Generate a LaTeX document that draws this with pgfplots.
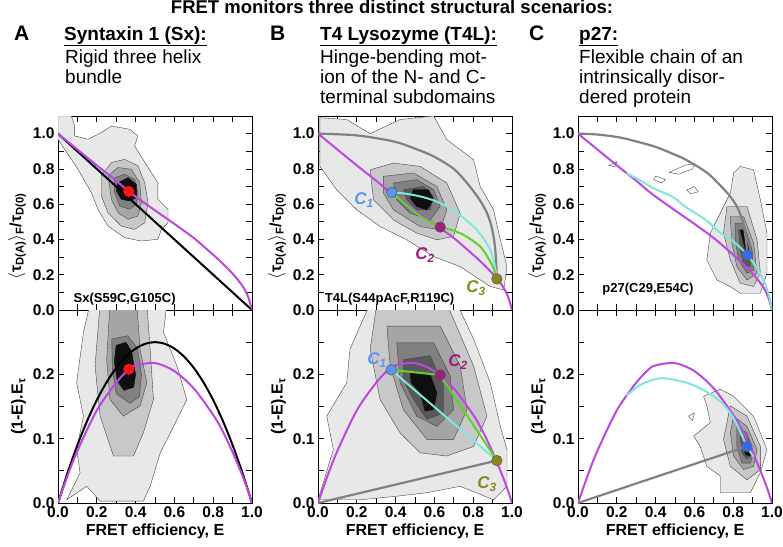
\documentclass[border=0pt]{standalone}
\usepackage{pgfplots}
\pgfplotsset{compat=1.18}
\usepackage{fontspec}
\setmainfont{Liberation Sans}
\definecolor{mag}{RGB}{190,70,225}
\definecolor{cyanc}{RGB}{125,232,218}
\definecolor{grn}{RGB}{95,212,40}
\definecolor{greyc}{RGB}{125,130,130}
\definecolor{cA}{RGB}{90,150,240}
\definecolor{cB}{RGB}{160,30,125}
\definecolor{cC}{RGB}{135,135,30}
\definecolor{redp}{RGB}{255,20,20}
\definecolor{blueC}{RGB}{55,105,235}
\definecolor{lv1}{RGB}{232,232,232}
\definecolor{lv2}{RGB}{200,200,200}
\definecolor{lv3}{RGB}{165,165,165}
\definecolor{lv4}{RGB}{128,128,128}
\definecolor{lv5}{RGB}{88,88,88}
\definecolor{lv6}{RGB}{15,15,15}
\definecolor{edge}{RGB}{70,70,70}
\pgfplotsset{
 l1/.style={fill=lv1,draw=edge,line width=0.4pt},
 l2/.style={fill=lv2,draw=edge,line width=0.4pt},
 l3/.style={fill=lv3,draw=edge,line width=0.4pt},
 l4/.style={fill=lv4,draw=edge,line width=0.4pt},
 l5/.style={fill=lv5,draw=edge,line width=0.4pt},
 l6/.style={fill=lv6,draw=lv6,line width=0.4pt},
 crv/.style={smooth,no marks,line width=2pt},
 dot/.style={only marks,mark=*,mark size=5.3pt,mark options={line width=0.5pt}},
 panel/.style={scale only axis,width=194pt,xmin=0,xmax=1,
  axis line style={line width=1pt},tick align=inside,tick pos=both,
  major tick length=6pt,minor tick length=6pt,
  every tick/.style={line width=0.8pt,black},
  xtick={0,0.2,0.4,0.6,0.8,1},minor xtick={0.1,0.3,0.5,0.7,0.9},
  ticklabel style={font=\bfseries\fontsize{15.5}{17}\selectfont},
  label style={font=\bfseries\fontsize{16}{18}\selectfont},
  clip=true},
 toppanel/.style={panel,height=194pt,ymin=0,ymax=1.1,
  ytick={0,0.2,0.4,0.6,0.8,1},yticklabels={0.0,0.2,0.4,0.6,0.8,1.0},
  minor ytick={0.1,0.3,0.5,0.7,0.9},xticklabels={},
  ylabel style={at={(ticklabel cs:0.38)}},
  ylabel={$\big\langle$τ\textsubscript{D(A)}$\big\rangle$\textsubscript{F}/τ\textsubscript{D(0)}}},
 botpanel/.style={panel,height=193pt,ymin=0,ymax=0.3,
  ytick={0,0.1,0.2},yticklabels={0.0,0.1,0.2},minor ytick={0.05,0.15,0.25},
  xticklabels={0.0,0.2,0.4,0.6,0.8,1.0},
  xlabel={FRET efficiency, E},ylabel={(1-E).E\textsubscript{τ}}},
}
\begin{document}
\begin{tikzpicture}
\useasboundingbox (0,0) rectangle (783pt,-546pt);
% ---------------- A top
\begin{axis}[toppanel,at={(58pt,-116pt)},anchor=north west]
\addplot[l1] coordinates {(0,1.1)(0.069,1.1)(0.086,1.043)(0.086,0.987)(0.155,0.968)(0.223,1.006)(0.275,1.043)(0.369,1.025)(0.412,0.987)(0.395,0.93)(0.438,0.854)(0.481,0.779)(0.515,0.722)(0.515,0.628)(0.567,0.571)(0.567,0.495)(0.533,0.457)(0.515,0.401)(0.43,0.391)(0.344,0.41)(0.258,0.476)(0.206,0.571)(0.172,0.665)(0.103,0.798)(0.034,0.911)(0,0.968)} --cycle;
\addplot[l2] coordinates {(0.223,0.76)(0.275,0.836)(0.344,0.854)(0.412,0.817)(0.447,0.722)(0.464,0.609)(0.447,0.495)(0.395,0.457)(0.326,0.476)(0.258,0.552)(0.223,0.647)} --cycle;
\addplot[l3] coordinates {(0.258,0.76)(0.309,0.808)(0.378,0.798)(0.421,0.722)(0.43,0.609)(0.412,0.533)(0.361,0.514)(0.309,0.552)(0.275,0.628)} --cycle;
\addplot[l4] coordinates {(0.292,0.75)(0.344,0.769)(0.395,0.741)(0.412,0.665)(0.404,0.599)(0.369,0.571)(0.318,0.59)(0.292,0.665)} --cycle;
\addplot[l6] coordinates {(0.309,0.722)(0.361,0.75)(0.404,0.713)(0.404,0.637)(0.369,0.618)(0.326,0.628)(0.301,0.675)} --cycle;
\addplot[no marks,line width=2pt,black] coordinates {(0,1)(1,0)};
\addplot[crv,mag] coordinates {(0,1)(0.1,0.91)(0.2,0.82)(0.3,0.733)(0.365,0.672)(0.4,0.643)(0.5,0.565)(0.6,0.488)(0.7,0.408)(0.8,0.313)(0.85,0.262)(0.9,0.206)(0.95,0.138)(0.98,0.075)(1,0)};
\addplot[dot,mark options={fill=redp,draw=redp}] coordinates {(0.365,0.672)};
\node[anchor=base west,inner sep=0,font=\bfseries\fontsize{13}{14}\selectfont] at (axis cs:0.08,0.04) {Sx(S59C,G105C)};
\end{axis}
% ---------------- A bottom
\begin{axis}[botpanel,at={(58pt,-310pt)},anchor=north west]
\addplot[l1] coordinates {(0.045,0.005)(0.114,0.047)(0.096,0.083)(0.131,0.135)(0.096,0.187)(0.131,0.265)(0.165,0.31)(0.561,0.31)(0.544,0.265)(0.613,0.213)(0.664,0.161)(0.596,0.119)(0.527,0.078)(0.475,0.026)(0.44,0.003)(0.217,0.003)(0.148,0.026)} --cycle;
\addplot[l2] coordinates {(0.217,0.31)(0.458,0.31)(0.475,0.239)(0.492,0.161)(0.44,0.109)(0.389,0.073)(0.286,0.073)(0.217,0.135)(0.191,0.213)} --cycle;
\addplot[l3] coordinates {(0.268,0.31)(0.406,0.31)(0.423,0.239)(0.458,0.187)(0.423,0.151)(0.337,0.135)(0.268,0.161)(0.251,0.223)} --cycle;
\addplot[l4] coordinates {(0.277,0.255)(0.36,0.26)(0.41,0.24)(0.43,0.2)(0.42,0.165)(0.37,0.155)(0.3,0.17)(0.28,0.21)} --cycle;
\addplot[l6] coordinates {(0.30,0.245)(0.35,0.25)(0.38,0.235)(0.40,0.2)(0.39,0.18)(0.34,0.175)(0.305,0.19)(0.29,0.22)} --cycle;
\addplot[crv,black] coordinates {(0,0)(0.05,0.0475)(0.1,0.09)(0.15,0.1275)(0.2,0.16)(0.25,0.1875)(0.3,0.21)(0.35,0.2275)(0.4,0.24)(0.45,0.2475)(0.5,0.25)(0.55,0.2475)(0.6,0.24)(0.65,0.2275)(0.7,0.21)(0.75,0.1875)(0.8,0.16)(0.85,0.1275)(0.9,0.09)(0.95,0.0475)(1,0)};
\addplot[crv,mag] coordinates {(0,0)(0.05,0.043)(0.1,0.081)(0.2,0.144)(0.3,0.187)(0.365,0.208)(0.4,0.214)(0.5,0.2175)(0.6,0.205)(0.7,0.178)(0.8,0.137)(0.85,0.111)(0.9,0.079)(0.95,0.043)(0.98,0.0185)(1,0)};
\addplot[dot,mark options={fill=redp,draw=redp}] coordinates {(0.365,0.208)};
\end{axis}
% ---------------- B top
\begin{axis}[toppanel,at={(318pt,-116pt)},anchor=north west]
\addplot[l1] coordinates {(0.01,1.09)(0.148,1.08)(0.269,1.0)(0.423,1.08)(0.596,1.1)(0.664,0.966)(0.802,0.852)(0.836,0.7)(0.905,0.568)(0.94,0.398)(0.974,0.246)(0.957,0.114)(0.888,0.133)(0.733,0.246)(0.596,0.303)(0.458,0.398)(0.32,0.473)(0.2,0.568)(0.096,0.682)(0.01,0.814)} --cycle;
\addplot[l2] coordinates {(0.269,0.795)(0.389,0.833)(0.527,0.814)(0.664,0.72)(0.733,0.549)(0.699,0.417)(0.613,0.398)(0.509,0.436)(0.389,0.511)(0.286,0.625)} --cycle;
\addplot[l3] coordinates {(0.337,0.758)(0.492,0.777)(0.613,0.70)(0.664,0.568)(0.63,0.455)(0.527,0.473)(0.389,0.568)(0.337,0.663)} --cycle;
\addplot[l4] coordinates {(0.389,0.72)(0.509,0.739)(0.596,0.682)(0.63,0.587)(0.578,0.511)(0.475,0.549)(0.406,0.625)} --cycle;
\addplot[l5] coordinates {(0.44,0.682)(0.544,0.70)(0.596,0.644)(0.578,0.568)(0.509,0.568)(0.458,0.625)} --cycle;
\addplot[l6] coordinates {(0.492,0.682)(0.57,0.682)(0.596,0.625)(0.561,0.568)(0.509,0.587)(0.475,0.634)} --cycle;
\addplot[crv,greyc,line width=2.2pt] coordinates {(0,1)(0.2,0.99)(0.389,0.956)(0.5,0.915)(0.596,0.871)(0.7,0.8)(0.768,0.72)(0.83,0.63)(0.871,0.55)(0.895,0.47)(0.91,0.38)(0.918,0.28)(0.922,0.176)};
\addplot[crv,mag] coordinates {(0,1)(0.1,0.91)(0.2,0.82)(0.3,0.733)(0.365,0.672)(0.4,0.643)(0.5,0.565)(0.6,0.488)(0.7,0.408)(0.8,0.313)(0.85,0.262)(0.9,0.206)(0.95,0.138)(0.98,0.075)(1,0)};
\addplot[crv,cyanc] coordinates {(0.38,0.667)(0.45,0.66)(0.527,0.644)(0.6,0.62)(0.664,0.587)(0.73,0.54)(0.802,0.473)(0.85,0.41)(0.888,0.341)(0.91,0.26)(0.922,0.176)};
\addplot[crv,grn] coordinates {(0.38,0.667)(0.45,0.6)(0.53,0.53)(0.63,0.47)};
\addplot[crv,grn] coordinates {(0.63,0.47)(0.70,0.45)(0.76,0.42)(0.836,0.36)(0.88,0.29)(0.905,0.235)(0.922,0.176)};
\addplot[dot,mark options={fill=cA,draw=black!70}] coordinates {(0.38,0.667)};
\addplot[dot,mark options={fill=cB,draw=black!70}] coordinates {(0.63,0.47)};
\addplot[dot,mark options={fill=cC,draw=black!70}] coordinates {(0.922,0.176)};
\node[anchor=base west,inner sep=0,font=\bfseries\fontsize{13}{14}\selectfont] at (axis cs:0.035,0.04) {T4L(S44pAcF,R119C)};
\end{axis}
% ---------------- B bottom
\begin{axis}[botpanel,at={(318pt,-310pt)},anchor=north west]
\addplot[l1] coordinates {(0,0.005)(0.079,0.083)(0.045,0.135)(0.148,0.187)(0.165,0.239)(0.217,0.275)(0.269,0.31)(0.716,0.31)(0.802,0.255)(0.888,0.187)(0.94,0.119)(0.974,0.083)(0.974,0.026)(0.905,0.005)(0.733,0.026)(0.561,0.016)(0.389,0.01)(0.217,0.005)} --cycle;
\addplot[l2] coordinates {(0.303,0.31)(0.664,0.31)(0.802,0.213)(0.871,0.135)(0.802,0.088)(0.664,0.073)(0.527,0.078)(0.423,0.109)(0.32,0.161)(0.269,0.239)} --cycle;
\addplot[l3] coordinates {(0.355,0.275)(0.63,0.275)(0.733,0.213)(0.768,0.145)(0.699,0.099)(0.561,0.099)(0.44,0.145)(0.372,0.213)} --cycle;
\addplot[l4] coordinates {(0.406,0.249)(0.596,0.249)(0.682,0.197)(0.699,0.145)(0.613,0.119)(0.509,0.135)(0.423,0.187)} --cycle;
\addplot[l5] coordinates {(0.44,0.223)(0.578,0.229)(0.647,0.182)(0.647,0.14)(0.561,0.13)(0.492,0.161)(0.44,0.192)} --cycle;
\addplot[l6] coordinates {(0.475,0.203)(0.578,0.2)(0.613,0.171)(0.596,0.145)(0.552,0.143)(0.527,0.171)(0.48,0.187)} --cycle;
\addplot[crv,mag] coordinates {(0,0)(0.05,0.043)(0.1,0.081)(0.2,0.144)(0.3,0.187)(0.365,0.208)(0.4,0.214)(0.5,0.2175)(0.6,0.205)(0.7,0.178)(0.8,0.137)(0.85,0.111)(0.9,0.079)(0.95,0.043)(0.98,0.0185)(1,0)};
\addplot[no marks,greyc,line width=2.2pt] coordinates {(0,0)(0.922,0.066)};
\addplot[no marks,cyanc,line width=2pt] coordinates {(0.377,0.207)(0.922,0.066)};
\addplot[no marks,grn,line width=2pt] coordinates {(0.377,0.207)(0.63,0.199)(0.922,0.066)};
\addplot[dot,mark options={fill=cA,draw=black!70}] coordinates {(0.377,0.207)};
\addplot[dot,mark options={fill=cB,draw=black!70}] coordinates {(0.63,0.199)};
\addplot[dot,mark options={fill=cC,draw=black!70}] coordinates {(0.922,0.066)};
\end{axis}
% ---------------- C top
\begin{axis}[toppanel,at={(578pt,-116pt)},anchor=north west]
\addplot[l1] coordinates {(0.836,0.814)(0.905,0.795)(0.94,0.625)(0.974,0.436)(0.974,0.208)(0.94,0.095)(0.836,0.095)(0.785,0.133)(0.716,0.17)(0.664,0.284)(0.682,0.436)(0.733,0.549)(0.785,0.663)(0.802,0.777)} --cycle;
\addplot[fill=white,draw=edge,line width=0.4pt] coordinates {(0.47,0.78)(0.55,0.82)(0.6,0.83)(0.59,0.8)(0.52,0.77)} --cycle;
\addplot[fill=white,draw=edge,line width=0.4pt] coordinates {(0.40,0.76)(0.45,0.74)(0.43,0.72)(0.39,0.74)} --cycle;
\addplot[fill=white,draw=edge,line width=0.4pt] coordinates {(0.56,0.68)(0.6,0.7)(0.62,0.67)(0.58,0.66)} --cycle;
\addplot[fill=white,draw=edge,line width=0.4pt] coordinates {(0.16,0.82)(0.2,0.84)(0.19,0.81)} --cycle;
\addplot[l2] coordinates {(0.768,0.587)(0.871,0.587)(0.923,0.398)(0.94,0.208)(0.905,0.133)(0.836,0.152)(0.785,0.284)(0.75,0.436)} --cycle;
\addplot[l3] coordinates {(0.785,0.53)(0.854,0.53)(0.905,0.379)(0.923,0.208)(0.871,0.17)(0.819,0.246)(0.793,0.379)} --cycle;
\addplot[l4] coordinates {(0.81,0.492)(0.854,0.492)(0.897,0.341)(0.905,0.227)(0.871,0.208)(0.828,0.284)(0.81,0.398)} --cycle;
\addplot[l5] coordinates {(0.828,0.455)(0.854,0.455)(0.888,0.303)(0.888,0.246)(0.854,0.256)(0.836,0.341)} --cycle;
\addplot[l6] coordinates {(0.836,0.455)(0.854,0.455)(0.888,0.312)(0.871,0.303)} --cycle;
\addplot[crv,greyc,line width=2.2pt] coordinates {(0,1)(0.1,0.995)(0.217,0.978)(0.32,0.95)(0.4,0.925)(0.49,0.885)(0.56,0.85)(0.663,0.78)(0.73,0.71)(0.78,0.65)(0.82,0.585)(0.85,0.5)(0.865,0.4)(0.873,0.3125)};
\addplot[crv,mag] coordinates {(0,1)(0.1,0.91)(0.2,0.82)(0.3,0.733)(0.365,0.672)(0.4,0.643)(0.5,0.565)(0.6,0.488)(0.7,0.408)(0.8,0.313)(0.85,0.262)(0.9,0.206)(0.95,0.138)(0.98,0.075)(1,0)};
\addplot[crv,cyanc] coordinates {(0.25,0.776)(0.32,0.735)(0.39,0.69)(0.49,0.64)(0.56,0.58)(0.66,0.51)(0.73,0.44)(0.8,0.39)(0.873,0.3125)(0.92,0.24)(0.96,0.16)(0.985,0.08)(1,0)};
\addplot[dot,mark options={fill=blueC,draw=black!60}] coordinates {(0.873,0.3125)};
\node[anchor=base west,inner sep=0,font=\bfseries\fontsize{13}{14}\selectfont] at (axis cs:0.125,0.1) {p27(C29,E54C)};
\end{axis}
% ---------------- C bottom
\begin{axis}[botpanel,at={(578pt,-310pt)},anchor=north west]
\addplot[l1] coordinates {(0.733,0.177)(0.802,0.166)(0.905,0.135)(0.974,0.083)(0.94,0.047)(0.888,0.016)(0.733,0.016)(0.733,0.042)(0.664,0.057)(0.63,0.088)(0.596,0.104)(0.682,0.125)(0.664,0.151)(0.647,0.166)} --cycle;
\addplot[fill=white,draw=edge,line width=0.4pt] coordinates {(0.57,0.135)(0.6,0.14)(0.59,0.128)} --cycle;
\addplot[l2] coordinates {(0.785,0.151)(0.871,0.135)(0.94,0.088)(0.94,0.052)(0.871,0.036)(0.785,0.057)(0.75,0.099)} --cycle;
\addplot[l3] coordinates {(0.802,0.135)(0.871,0.119)(0.923,0.083)(0.905,0.057)(0.854,0.052)(0.802,0.073)(0.785,0.109)} --cycle;
\addplot[l4] coordinates {(0.819,0.119)(0.871,0.109)(0.905,0.078)(0.888,0.062)(0.845,0.062)(0.819,0.088)} --cycle;
\addplot[l5] coordinates {(0.836,0.104)(0.88,0.099)(0.897,0.075)(0.871,0.068)(0.845,0.078)} --cycle;
\addplot[l6] coordinates {(0.854,0.094)(0.888,0.086)(0.888,0.073)(0.862,0.075)} --cycle;
\addplot[crv,mag] coordinates {(0,0)(0.05,0.043)(0.1,0.081)(0.2,0.144)(0.3,0.187)(0.365,0.208)(0.4,0.214)(0.5,0.2175)(0.6,0.205)(0.7,0.178)(0.8,0.137)(0.85,0.111)(0.9,0.079)(0.95,0.043)(0.98,0.0185)(1,0)};
\addplot[crv,cyanc] coordinates {(0.25,0.167)(0.33,0.185)(0.43,0.194)(0.56,0.187)(0.65,0.175)(0.733,0.158)(0.8,0.133)(0.871,0.088)(0.905,0.072)};
\addplot[no marks,greyc,line width=2.2pt] coordinates {(0,0)(0.871,0.088)};
\addplot[dot,mark options={fill=blueC,draw=black!60}] coordinates {(0.871,0.088)};
\end{axis}
% ---------------- texts
\node[anchor=base,inner sep=0,font=\bfseries\fontsize{18.5}{20}\selectfont] at (392pt,-13.5pt) {FRET monitors three distinct structural scenarios:};
\foreach \L/\x in {A/14,B/270,C/529}
  \node[anchor=base west,inner sep=0,font=\bfseries\fontsize{21}{22}\selectfont] at (\x pt,-40pt) {\L};
\node[anchor=base west,inner sep=0,font=\bfseries\fontsize{19}{20}\selectfont] at (64pt,-40pt) {\underline{Syntaxin 1 (Sx):}};
\node[anchor=base west,inner sep=0,font=\bfseries\fontsize{19}{20}\selectfont] at (320pt,-40pt) {\underline{T4 Lysozyme (T4L):}};
\node[anchor=base west,inner sep=0,font=\bfseries\fontsize{19}{20}\selectfont] at (579pt,-40pt) {\underline{p27:}};
\begin{scope}[every node/.style={anchor=base west,inner sep=0,font=\fontsize{19}{20}\selectfont}]
\node at (65pt,-63pt) {Rigid three helix};
\node at (65pt,-83pt) {bundle};
\node at (320pt,-63pt) {Hinge-bending mot-};
\node at (320pt,-83pt) {ion of the N- and C-};
\node at (320pt,-103pt) {terminal subdomains};
\node at (579pt,-63pt) {Flexible chain of an};
\node at (579pt,-83pt) {intrinsically disor-};
\node at (579pt,-103pt) {dered protein};
\end{scope}
\begin{scope}[every node/.style={inner sep=0,font=\bfseries\itshape\fontsize{17}{18}\selectfont}]
\node[text=cA] at (364pt,-200pt) {C\textsubscript{1}};
\node[text=cB] at (425pt,-255pt) {C\textsubscript{2}};
\node[text=cC] at (476pt,-288pt) {C\textsubscript{3}};
\node[text=cA] at (377pt,-360pt) {C\textsubscript{1}};
\node[text=cB] at (458pt,-362pt) {C\textsubscript{2}};
\node[text=cC] at (487pt,-484pt) {C\textsubscript{3}};
\end{scope}
\end{tikzpicture}
\end{document}
